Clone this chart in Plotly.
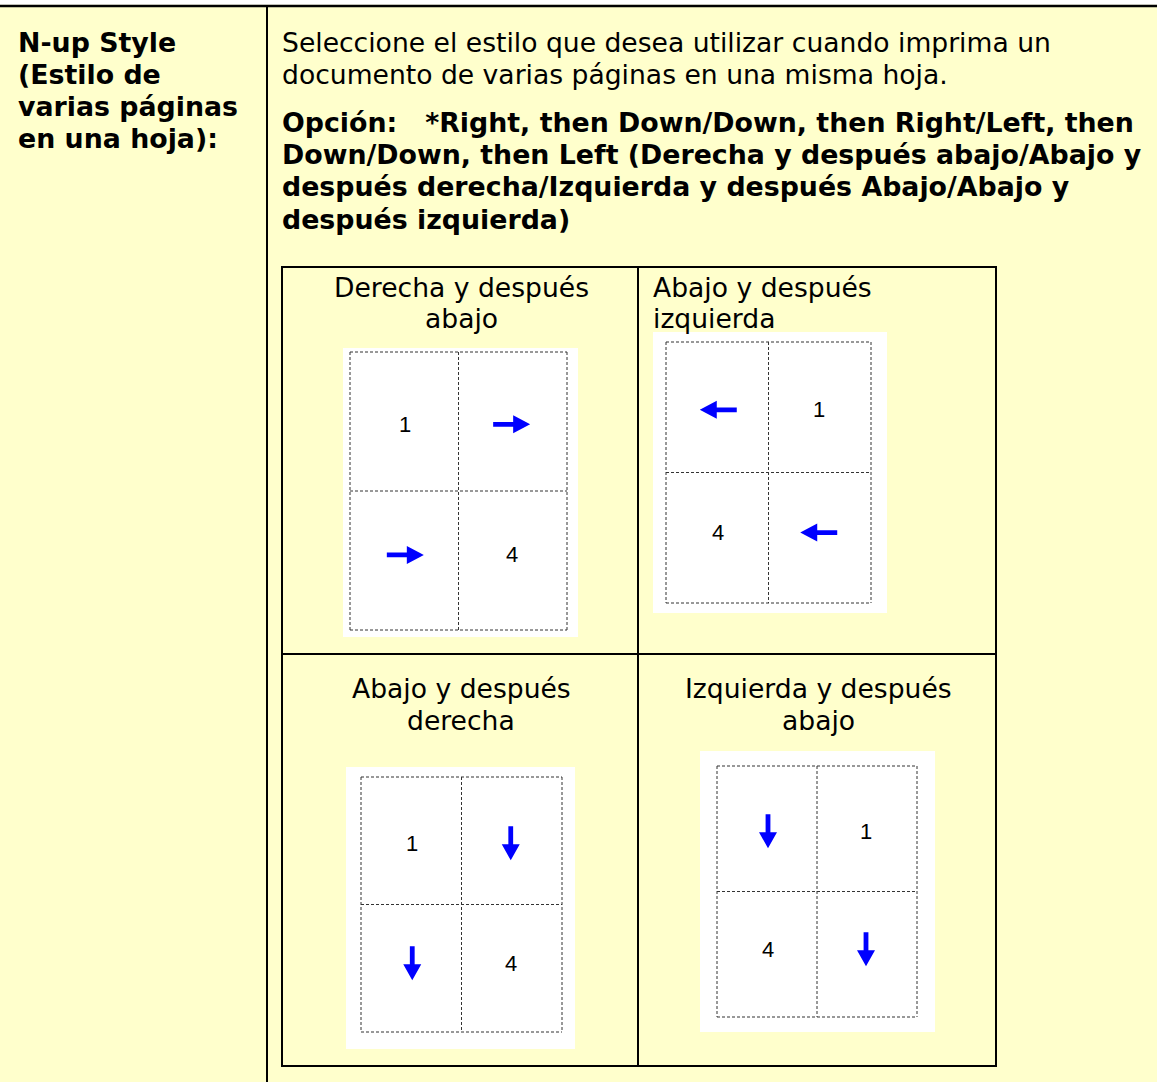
import plotly.graph_objects as go

# ---------------- data ----------------
row_label = ["N-up Style", "(Estilo de", "varias páginas", "en una hoja):"]
description = [
    "Seleccione el estilo que desea utilizar cuando imprima un",
    "documento de varias páginas en una misma hoja.",
]
option_lines = [
    "Opción:\u00a0\u00a0\u00a0*Right, then Down/Down, then Right/Left, then",
    "Down/Down, then Left (Derecha y después abajo/Abajo y",
    "después derecha/Izquierda y después Abajo/Abajo y",
    "después izquierda)",
]
panel_titles = [
    ["Derecha y después", "abajo"],
    ["Abajo y después", "izquierda"],
    ["Abajo y después", "derecha"],
    ["Izquierda y después", "abajo"],
]
# contents of each sheet quadrant: top-left, top-right, bottom-left, bottom-right
panel_cells = [
    ["1", "right", "right", "4"],
    ["left", "1", "4", "left"],
    ["1", "down", "down", "4"],
    ["down", "1", "4", "down"],
]

# ---------------- layout constants ----------------
W, H = 1157, 1082
BG = "#FFFFCC"
FONT = "DejaVu Sans"
BLUE = "#0000FF"
REG = 26.6
BOLD = 26.8

panels = [
    dict(tx=461, talign="center", ty=[287, 318], white=(343, 348, 578, 637), frame=(350, 352, 567, 630)),
    dict(tx=654, talign="left", ty=[287, 318], white=(653, 332, 887, 613), frame=(666, 342, 871, 603)),
    dict(tx=461, talign="center", ty=[688, 720], white=(346, 767, 575, 1049), frame=(361, 777, 562, 1032)),
    dict(tx=818, talign="center", ty=[688, 720], white=(700, 751, 935, 1032), frame=(717, 766, 917, 1017)),
]
FX = [0.255, 0.745]
FY = [0.26, 0.73]

fig = go.Figure()
shapes = []
annotations = []


def text(x, y, s, size=REG, bold=False, xanchor="left", family=FONT):
    annotations.append(dict(
        x=x, y=y, xref="x", yref="y", text=f"<b>{s}</b>" if bold else s,
        showarrow=False, xanchor=xanchor, yanchor="middle",
        xshift=-3 if xanchor == "left" else 0,
        font=dict(family=family, size=size, color="black"),
    ))


def line(x0, y0, x1, y1, w=2, color="black", dash=None):
    d = dict(type="line", x0=x0, y0=y0, x1=x1, y1=y1, xref="x", yref="y",
             line=dict(color=color, width=w))
    if dash:
        d["line"]["dash"] = dash
    shapes.append(d)


def arrow(cx, cy, direction, t=4.8, hw=9):
    dx, dy = {"right": (1, 0), "left": (-1, 0), "down": (0, 1), "up": (0, -1)}[direction]
    L, hl = (37, 17) if dx else (34, 16)
    px, py = -dy, dx
    pts_local = [(-L / 2, -t / 2), (L / 2 - hl, -t / 2), (L / 2 - hl, -hw), (L / 2, 0),
                 (L / 2 - hl, hw), (L / 2 - hl, t / 2), (-L / 2, t / 2)]
    pts = [(cx + a * dx + b * px, cy + a * dy + b * py) for a, b in pts_local]
    path = "M " + " L ".join(f"{x:.2f},{y:.2f}" for x, y in pts) + " Z"
    shapes.append(dict(type="path", path=path, xref="x", yref="y",
                       fillcolor=BLUE, line=dict(color=BLUE, width=0)))


# top white strip and rules
shapes.append(dict(type="rect", x0=0, y0=0, x1=W, y1=4.8, xref="x", yref="y",
                   fillcolor="white", line=dict(width=0)))
line(0, 6, W, 6, w=2.5)
line(267, 6, 267, H, w=2)

# left column header
for i, s in enumerate(row_label):
    text(19, 42 + 32 * i, s, size=BOLD, bold=True)

# description
for i, s in enumerate(description):
    text(283, 42 + 32 * i, s)
for i, s in enumerate(option_lines):
    text(283, 122 + 32.4 * i, s, size=BOLD, bold=True)

# inner table
shapes.append(dict(type="rect", x0=282, y0=267, x1=996, y1=1066, xref="x", yref="y",
                   line=dict(color="black", width=2)))
line(638, 267, 638, 1066)
line(282, 654, 996, 654)

for p, titles, cells in zip(panels, panel_titles, panel_cells):
    for s, y in zip(titles, p["ty"]):
        text(p["tx"], y, s, xanchor=p["talign"])
    wx0, wy0, wx1, wy1 = p["white"]
    shapes.append(dict(type="rect", x0=wx0, y0=wy0, x1=wx1, y1=wy1, xref="x", yref="y",
                       fillcolor="white", line=dict(width=0)))
    fx0, fy0, fx1, fy1 = p["frame"]
    dash = "3px,2px"
    col = "#333333"
    line(fx0, fy0, fx1, fy0, w=1, color=col, dash=dash)
    line(fx0, fy1, fx1, fy1, w=1, color=col, dash=dash)
    line(fx0, fy0, fx0, fy1, w=1, color=col, dash=dash)
    line(fx1, fy0, fx1, fy1, w=1, color=col, dash=dash)
    mx, my = (fx0 + fx1) / 2, (fy0 + fy1) / 2
    line(mx, fy0, mx, fy1, w=1, color=col, dash=dash)
    line(fx0, my, fx1, my, w=1, color=col, dash=dash)
    for k, c in enumerate(cells):
        cx = fx0 + FX[k % 2] * (fx1 - fx0)
        cy = fy0 + FY[k // 2] * (fy1 - fy0)
        if c in ("right", "left", "down", "up"):
            arrow(cx, cy, c)
        else:
            text(cx, cy, c, size=22, xanchor="center", family="Liberation Sans")

fig.update_layout(
    width=W, height=H, margin=dict(l=0, r=0, t=0, b=0),
    paper_bgcolor=BG, plot_bgcolor=BG,
    xaxis=dict(range=[0, W], visible=False, fixedrange=True),
    yaxis=dict(range=[H, 0], visible=False, fixedrange=True),
    shapes=shapes, annotations=annotations, showlegend=False,
)
fig.write_html(
    "out.html",
    config={"displayModeBar": False},
    post_script="document.body.style.margin='0';document.body.style.overflow='hidden';",
)
